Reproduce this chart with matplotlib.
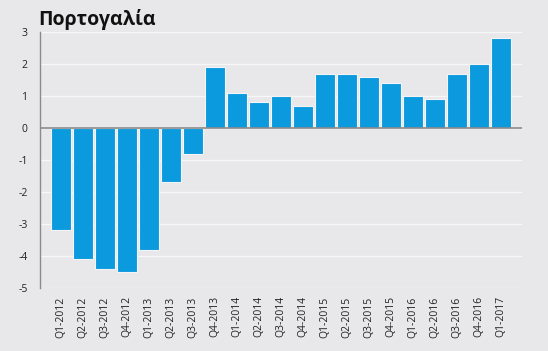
import matplotlib
matplotlib.use("Agg")
import matplotlib.pyplot as plt

title = "Πορτογαλία"
quarters = ["Q1-2012", "Q2-2012", "Q3-2012", "Q4-2012", "Q1-2013", "Q2-2013", "Q3-2013",
            "Q4-2013", "Q1-2014", "Q2-2014", "Q3-2014", "Q4-2014", "Q1-2015", "Q2-2015",
            "Q3-2015", "Q4-2015", "Q1-2016", "Q2-2016", "Q3-2016", "Q4-2016", "Q1-2017"]
values = [-3.2, -4.1, -4.4, -4.5, -3.8, -1.7, -0.8,
          1.9, 1.1, 0.8, 1.0, 0.7, 1.7, 1.7,
          1.6, 1.4, 1.0, 0.9, 1.7, 2.0, 2.8]
yticks = [3, 2, 1, 0, -1, -2, -3, -4, -5]
ytick_labels = ["3", "2", "1", "0", "-1", "-2", "-3", "-4", "-5"]

plt.rcParams['font.family'] = ['Open Sans', 'DejaVu Sans']

bg = "#e8e8ea"
fig = plt.figure(figsize=(5.48, 3.51), dpi=100, facecolor=bg)
ax = fig.add_axes([0.073, 0.1795, 0.8796, 0.7293], facecolor=bg)

x = list(range(len(quarters)))
ax.bar(x, values, width=0.9, color="#0b9ade", edgecolor="#f4f4f6", linewidth=0.8, zorder=3)

ax.set_xlim(-0.95, 20.97)
ax.set_ylim(-5, 3)
ax.set_yticks(yticks)
ax.set_yticklabels(ytick_labels)
ax.set_xticks(x)
ax.set_xticklabels(quarters, rotation=90)

ax.grid(axis="y", color="#f7f7f7", linewidth=1.0, zorder=0)
ax.axhline(0, color="#8a8a8a", linewidth=1.2, zorder=4)

for s in ["top", "right", "bottom"]:
    ax.spines[s].set_visible(False)
ax.spines["left"].set_color("#8a8a8a")
ax.spines["left"].set_linewidth(1.0)

ax.tick_params(axis="both", length=0, labelsize=7.5, colors="#222222", pad=6)
ax.tick_params(axis="y", pad=9)

fig.text(0.069, 0.945, title, fontsize=14, fontweight="bold", color="#111111",
         ha="left", va="center", family=["Open Sans", "DejaVu Sans"])

fig.savefig("out.png", dpi=100, facecolor=bg)
